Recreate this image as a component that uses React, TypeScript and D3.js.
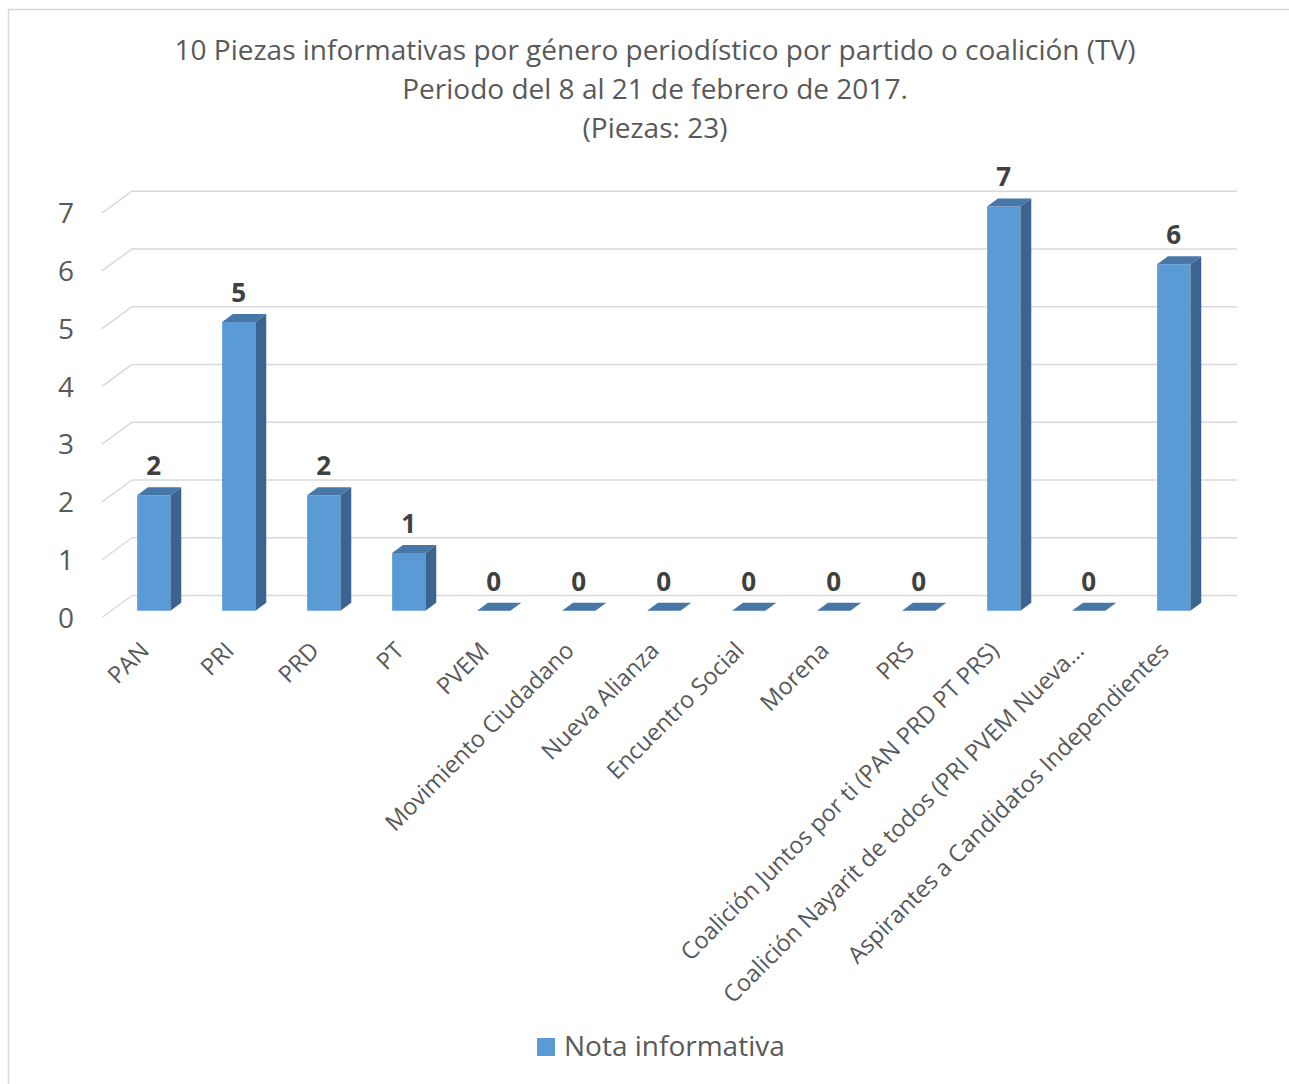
import * as d3 from 'd3';
import * as React from 'react';

const WIDTH = 1289;
const HEIGHT = 1084;

const TITLE_LINES = [
  '10 Piezas informativas por género periodístico por partido o coalición (TV)',
  'Periodo del 8 al 21 de febrero de 2017.',
  '(Piezas: 23)',
];

const categories = [
  'PAN',
  'PRI',
  'PRD',
  'PT',
  'PVEM',
  'Movimiento Ciudadano',
  'Nueva Alianza',
  'Encuentro Social',
  'Morena',
  'PRS',
  'Coalición Juntos por ti (PAN PRD PT PRS)',
  'Coalición Nayarit de todos (PRI PVEM Nueva…',
  'Aspirantes a Candidatos Independientes',
];
const notaInformativa = [2, 5, 2, 1, 0, 0, 0, 0, 0, 0, 7, 0, 6];
const yTicks = [0, 1, 2, 3, 4, 5, 6, 7];
const seriesName = 'Nota informativa';

const FONT = "'Open Sans', 'Noto Sans', sans-serif";
const TEXT = '#595959';
const GRID = '#d9d9d9';
const FRONT = '#5b9bd5';
const SIDE = '#3b6590';
const TOP = '#4677a7';

// fake 3d: depth 1 = front of floor, 0 = back wall
const DEPTH_DX = -30;
const DEPTH_DY = 22;
const BAR_FRONT = 0.69;
const BAR_BACK = 0.33;

function App() {
  const ref = React.useRef<SVGSVGElement | null>(null);

  React.useEffect(() => {
    const svg = d3.select(ref.current);
    svg.selectAll('*').remove();

    const x = d3
      .scaleBand<string>()
      .domain(categories)
      .range([132, 1237]);
    const y = d3.scaleLinear().domain([0, 7]).range([595.5, 191.2]);
    const barW = x.bandwidth() * 0.392;

    const px = (xb: number, d: number) => xb + DEPTH_DX * d;
    const py = (yb: number, d: number) => yb + DEPTH_DY * d;

    svg
      .append('rect')
      .attr('x', 8.5)
      .attr('y', 9.5)
      .attr('width', 1290)
      .attr('height', 1090)
      .attr('fill', '#fff')
      .attr('stroke', GRID)
      .attr('stroke-width', 1.5);

    // title
    svg
      .append('g')
      .selectAll('text')
      .data(TITLE_LINES)
      .enter()
      .append('text')
      .attr('x', 655)
      .attr('y', (d, i) => 60 + i * 39)
      .attr('text-anchor', 'middle')
      .style('font-family', FONT)
      .style('font-size', '28px')
      .style('fill', TEXT)
      .text(d => d);

    // gridlines: back wall + left side diagonal
    const grid = svg.append('g');
    grid
      .selectAll('.back')
      .data(yTicks)
      .enter()
      .append('line')
      .attr('x1', x.range()[0])
      .attr('x2', x.range()[1])
      .attr('y1', d => y(d))
      .attr('y2', d => y(d))
      .attr('stroke', GRID)
      .attr('stroke-width', 1.5);
    grid
      .selectAll('.side')
      .data(yTicks)
      .enter()
      .append('line')
      .attr('x1', x.range()[0])
      .attr('x2', px(x.range()[0], 1))
      .attr('y1', d => y(d))
      .attr('y2', d => py(y(d), 1))
      .attr('stroke', GRID)
      .attr('stroke-width', 1.5);

    // y tick labels
    svg
      .append('g')
      .selectAll('text')
      .data(yTicks)
      .enter()
      .append('text')
      .attr('x', 74)
      .attr('y', d => py(y(d), 1))
      .attr('dy', '0.36em')
      .attr('text-anchor', 'end')
      .style('font-family', FONT)
      .style('font-size', '28px')
      .style('fill', TEXT)
      .text(d => d);

    // bars
    const bars = svg
      .append('g')
      .selectAll('g')
      .data(categories)
      .enter()
      .append('g');

    const val = (i: number) => notaInformativa[i];
    const left = (c: string) => (x(c) as number) + x.bandwidth() / 2 - barW / 2;

    bars
      .append('polygon')
      .attr('fill', FRONT)
      .attr('points', (c, i) => {
        const l = left(c);
        const r = l + barW;
        const t = y(val(i));
        const b = y(0);
        return [
          [px(l, BAR_FRONT), py(b, BAR_FRONT)],
          [px(r, BAR_FRONT), py(b, BAR_FRONT)],
          [px(r, BAR_FRONT), py(t, BAR_FRONT)],
          [px(l, BAR_FRONT), py(t, BAR_FRONT)],
        ].join(' ');
      });
    bars
      .append('polygon')
      .attr('fill', SIDE)
      .attr('points', (c, i) => {
        const r = left(c) + barW;
        const t = y(val(i));
        const b = y(0);
        return [
          [px(r, BAR_FRONT), py(b, BAR_FRONT)],
          [px(r, BAR_BACK), py(b, BAR_BACK)],
          [px(r, BAR_BACK), py(t, BAR_BACK)],
          [px(r, BAR_FRONT), py(t, BAR_FRONT)],
        ].join(' ');
      });
    bars
      .append('polygon')
      .attr('fill', TOP)
      .attr('points', (c, i) => {
        const l = left(c);
        const r = l + barW;
        const t = y(val(i));
        return [
          [px(l, BAR_FRONT), py(t, BAR_FRONT)],
          [px(r, BAR_FRONT), py(t, BAR_FRONT)],
          [px(r, BAR_BACK), py(t, BAR_BACK)],
          [px(l, BAR_BACK), py(t, BAR_BACK)],
        ].join(' ');
      });

    // data labels
    bars
      .append('text')
      .attr('x', c => px((x(c) as number) + x.bandwidth() / 2, BAR_FRONT))
      .attr('y', (c, i) => py(y(val(i)), BAR_BACK) - 12)
      .attr('text-anchor', 'middle')
      .style('font-family', FONT)
      .style('font-size', '26px')
      .style('font-weight', 'bold')
      .style('fill', '#404040')
      .text((c, i) => val(i));

    // category labels
    svg
      .append('g')
      .selectAll('text')
      .data(categories)
      .enter()
      .append('text')
      .attr(
        'transform',
        c => `translate(${px((x(c) as number) + x.bandwidth() / 2, 1) + 6},652) rotate(-45)`
      )
      .attr('text-anchor', 'end')
      .style('font-family', FONT)
      .style('font-size', '23.5px')
      .style('fill', TEXT)
      .text(c => c);

    // legend
    const legend = svg.append('g');
    legend
      .append('rect')
      .attr('x', 537)
      .attr('y', 1038)
      .attr('width', 18)
      .attr('height', 18)
      .attr('fill', FRONT);
    legend
      .append('text')
      .attr('x', 564)
      .attr('y', 1056)
      .style('font-family', FONT)
      .style('font-size', '28px')
      .style('fill', TEXT)
      .text(seriesName);
  }, []);

  return (
    <svg
      ref={ref}
      width={WIDTH}
      height={HEIGHT}
      viewBox={`0 0 ${WIDTH} ${HEIGHT}`}
      style={{ position: 'absolute', left: 0, top: 0 }}
    />
  );
}

export default App;
